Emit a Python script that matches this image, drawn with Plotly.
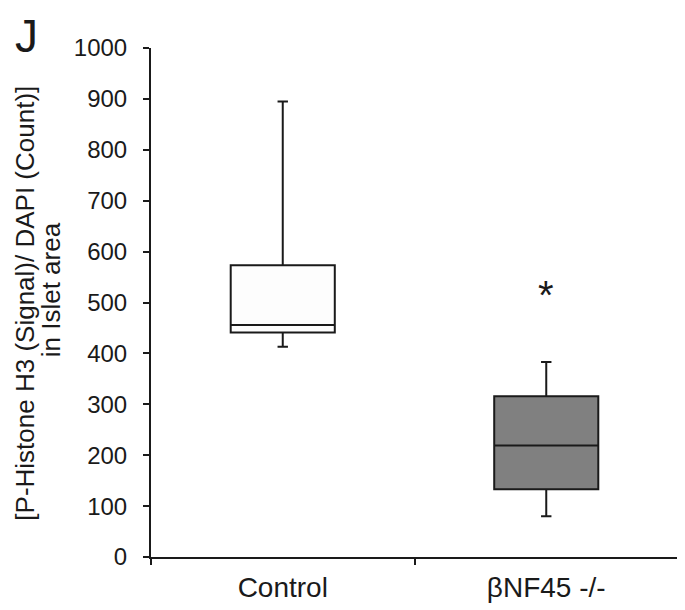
import plotly.graph_objects as go

# Box statistics
groups = ["Control", "βNF45 -/-"]
lower = [413, 80]
q1 = [441, 133]
median = [456, 219]
q3 = [573, 316]
upper = [895, 383]
fills = ["#fdfdfd", "#808080"]

# significance marker
star_group = "βNF45 -/-"
star_y = 527

ink = "#1a1a1a"

fig = go.Figure()
for i, g in enumerate(groups):
    fig.add_trace(go.Box(
        x=[g], q1=[q1[i]], median=[median[i]], q3=[q3[i]],
        lowerfence=[lower[i]], upperfence=[upper[i]],
        fillcolor=fills[i], line=dict(color=ink, width=2),
        width=0.395, whiskerwidth=0.1, boxpoints=False,
        showlegend=False, hoverinfo="skip",
    ))

fig.add_annotation(x=star_group, y=star_y, text="*", showarrow=False,
                   font=dict(size=40, color=ink), yshift=-6)
fig.add_annotation(xref="paper", yref="paper", x=-0.262, y=1.078, text="J",
                   showarrow=False, xanchor="left", yanchor="top",
                   font=dict(size=46, color=ink))

# y axis title as two separately placed lines
fig.add_annotation(xref="paper", yref="paper", x=-0.272, y=0.499,
                   text="[P-Histone H3 (Signal)/ DAPI (Count)]", textangle=-90,
                   showarrow=False, font=dict(size=26, color=ink))
fig.add_annotation(xref="paper", yref="paper", x=-0.222, y=0.524,
                   text="in Islet area", textangle=-90,
                   showarrow=False, font=dict(size=26, color=ink))

fig.update_layout(
    width=677, height=602,
    margin=dict(l=143, r=7, t=40, b=51),
    plot_bgcolor="white", paper_bgcolor="white",
    font=dict(family="Liberation Sans, Arial, sans-serif", color=ink),
)
fig.update_xaxes(
    type="category", range=[-0.5, 1.5], showline=True, linecolor=ink,
    linewidth=2, ticks="outside", tickson="boundaries", ticklen=6,
    tickwidth=2, tickcolor=ink, tickfont=dict(size=28), showgrid=False,
    ticklabelstandoff=4,
)
fig.update_yaxes(
    range=[0, 1000], dtick=100, showline=True, linecolor=ink,
    linewidth=2, ticks="outside", ticklen=6, tickwidth=2,
    tickcolor=ink, tickfont=dict(size=24), showgrid=False,
    zeroline=False, ticklabelstandoff=11,
)

fig.write_html("out.html")
